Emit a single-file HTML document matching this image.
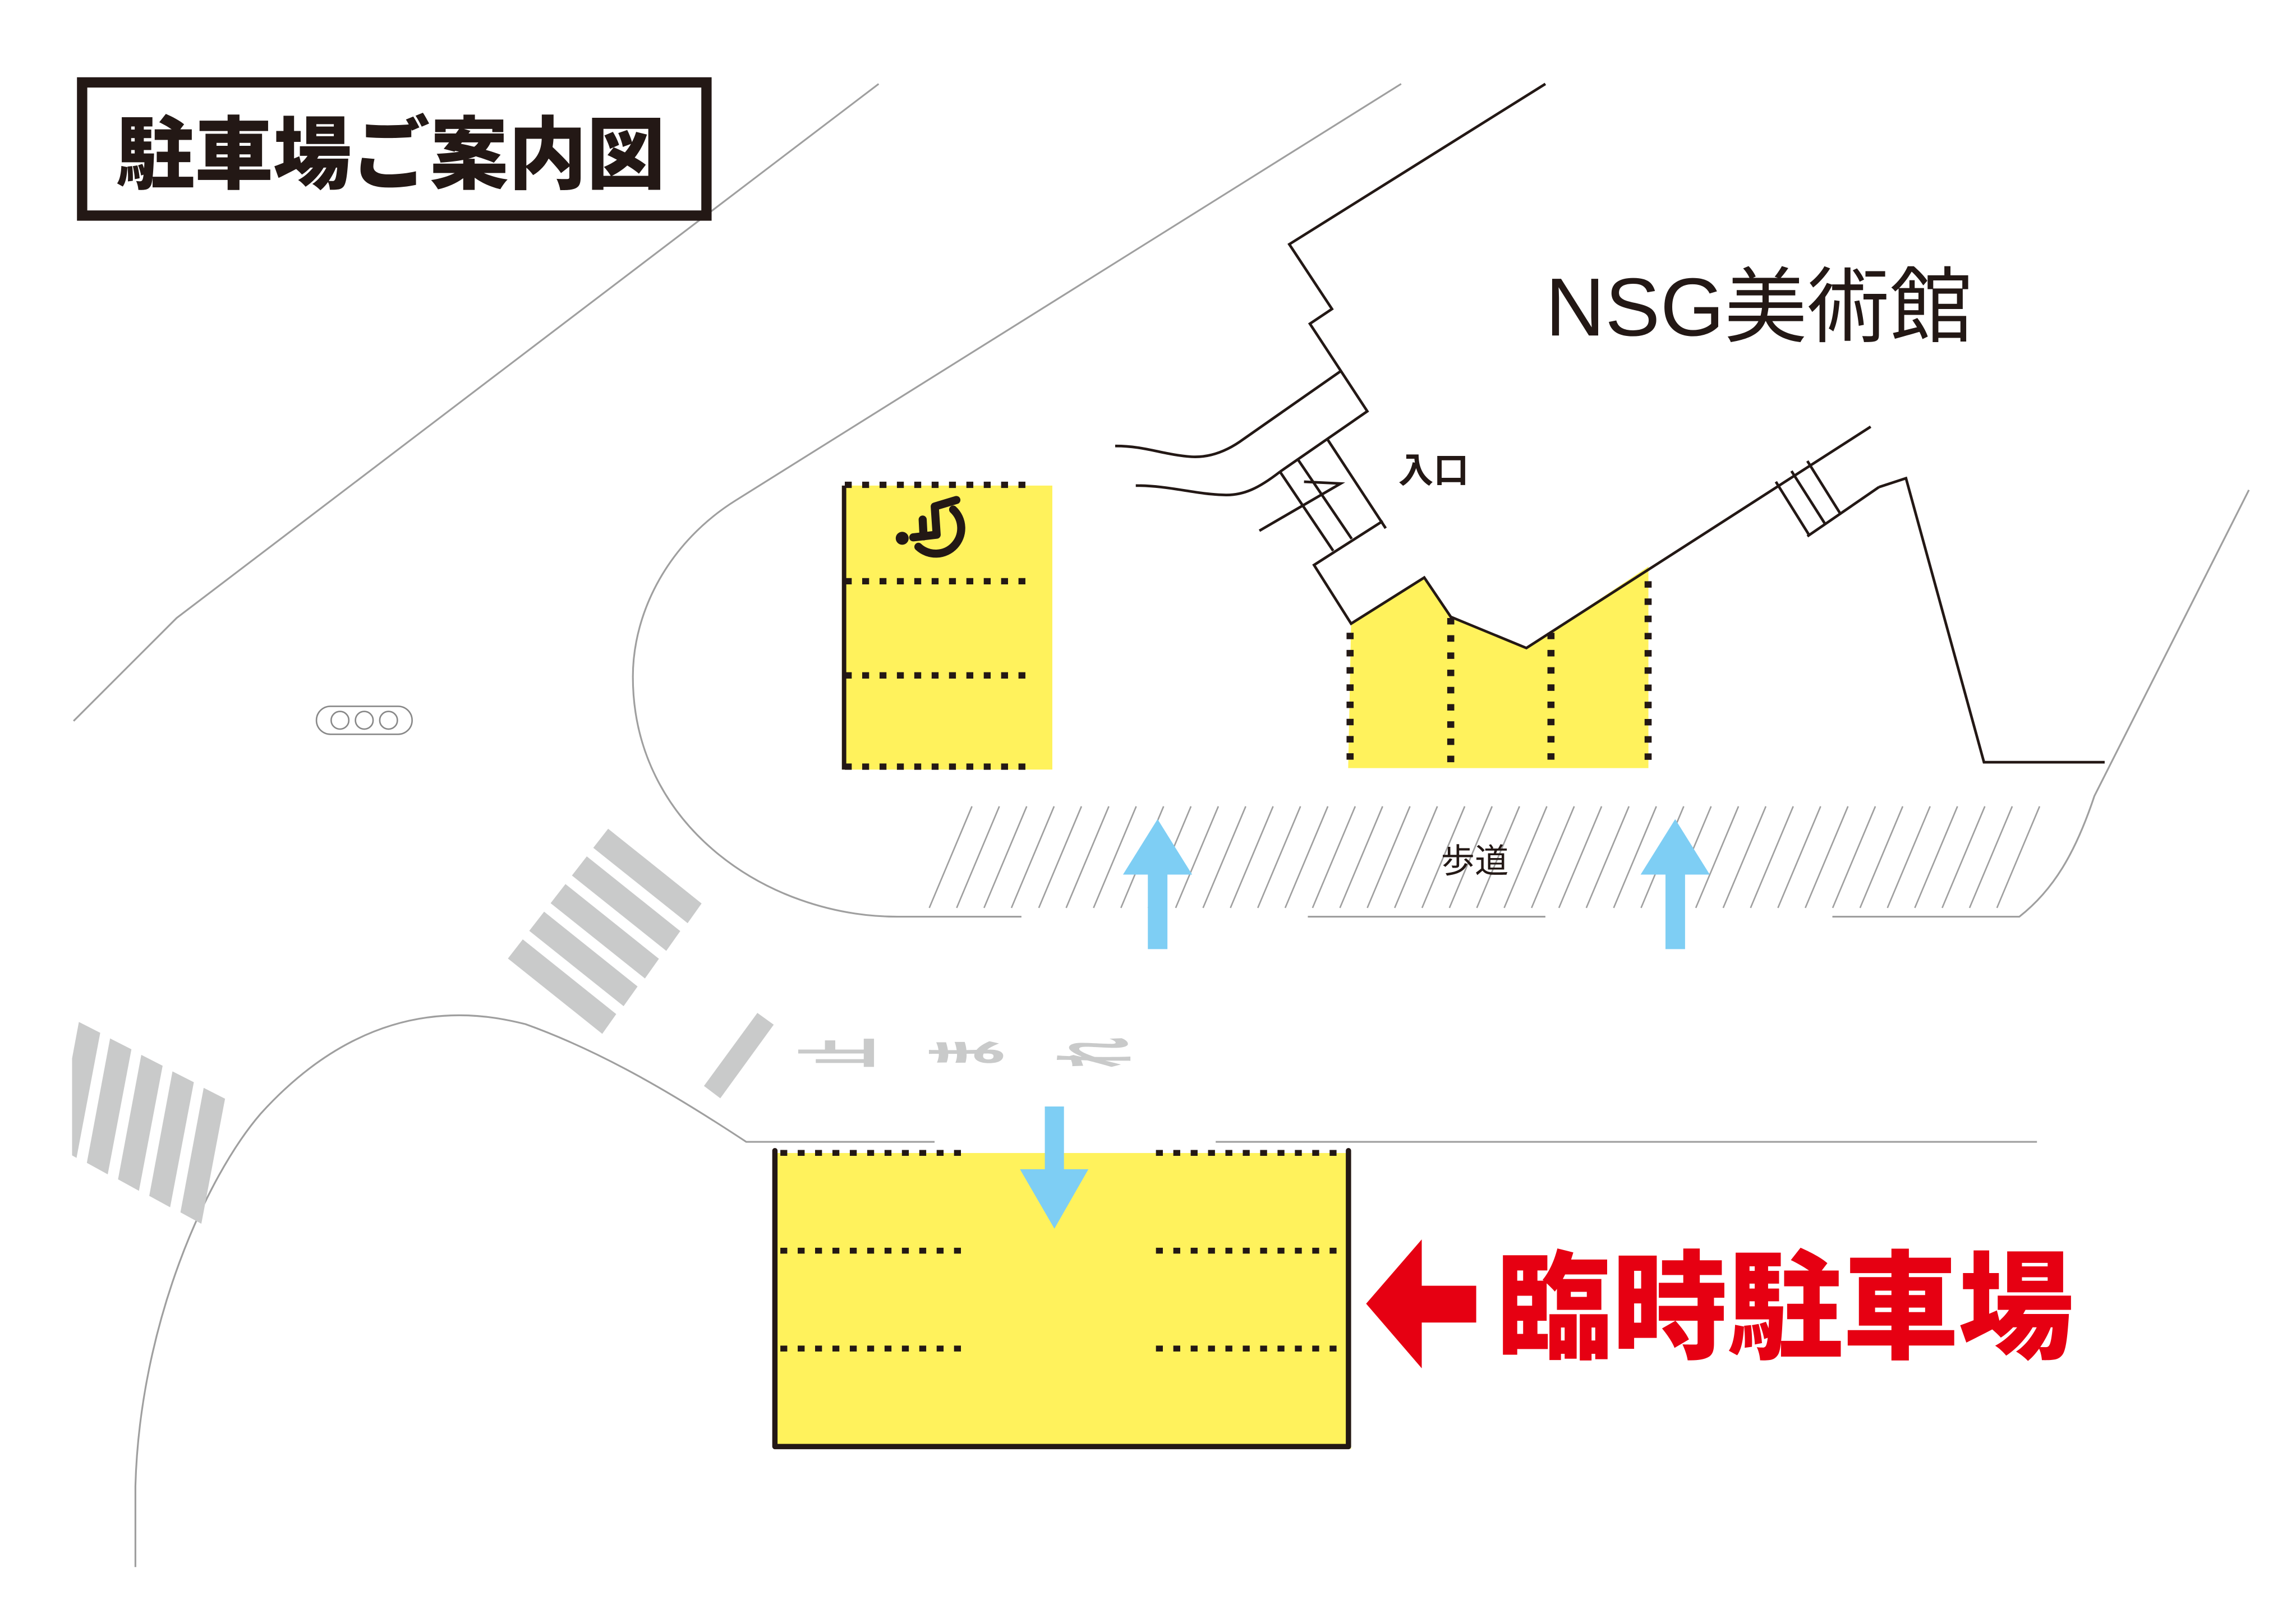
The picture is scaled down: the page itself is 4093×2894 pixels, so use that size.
<!DOCTYPE html>
<html><head><meta charset="utf-8"><style>
html,body{margin:0;padding:0;background:#fff;}
svg{display:block;}
</style></head><body>
<svg xmlns="http://www.w3.org/2000/svg" width="4093" height="2894" viewBox="0 0 1560 1103">
<defs><clipPath id="cl"><rect x="49" y="0" width="1600" height="1103"/></clipPath></defs>
<rect width="1560" height="1103" fill="#fff"/>
<!-- roads -->
<g fill="none" stroke="#9f9f9f" stroke-width="1.2">
<polyline points="597,57 120,420 50,490"/>
<path d="M952,57 L500,340 C455,368 430,415 430,460 C430,560 520,623 610,623 L694,623"/>
<line x1="888.6" y1="623" x2="1050" y2="623"/>
<path d="M1245,623 L1372,623 C1395,605 1410,580 1423,541 L1528,333"/>
<path d="M92,1065 L92,1010 C95,900 140,800 177,757 C215,715 260,690 312,690 C330,690 345,693 357,696 C410,715 460,745 507,776 L635,776"/>
<line x1="826" y1="776" x2="1384" y2="776"/>
</g>
<!-- hatch -->
<g stroke="#9f9f9f" stroke-width="1">
<path d="M660.4,548 L631.4,617 M679,548 L650,617 M697.6,548 L668.6,617 M716.2,548 L687.2,617 M734.8,548 L705.8,617 M753.4,548 L724.4,617 M772,548 L743,617 M790.6,548 L761.6,617 M809.2,548 L780.2,617 M827.8,548 L798.8,617 M846.4,548 L817.4,617 M865,548 L836,617 M883.6,548 L854.6,617 M902.2,548 L873.2,617 M920.8,548 L891.8,617 M939.4,548 L910.4,617 M958,548 L929,617 M976.6,548 L947.6,617 M995.2,548 L966.2,617 M1013.8,548 L984.8,617 M1032.4,548 L1003.4,617 M1051,548 L1022,617 M1069.6,548 L1040.6,617 M1088.2,548 L1059.2,617 M1106.8,548 L1077.8,617 M1125.4,548 L1096.4,617 M1144,548 L1115,617 M1162.6,548 L1133.6,617 M1181.2,548 L1152.2,617 M1199.8,548 L1170.8,617 M1218.4,548 L1189.4,617 M1237,548 L1208,617 M1255.6,548 L1226.6,617 M1274.2,548 L1245.2,617 M1292.8,548 L1263.8,617 M1311.4,548 L1282.4,617 M1330,548 L1301,617 M1348.6,548 L1319.6,617 M1367.2,548 L1338.2,617 M1385.8,548 L1356.8,617"/>
</g>
<text x="1002" y="593" font-family="Liberation Sans,'Noto Sans CJK JP',sans-serif" font-size="23" text-anchor="middle" fill="#231815">歩道</text>
<!-- crosswalks -->
<g fill="#c9caca">
<polygon points="413.2,563.2 476.7,614 467.2,627.4 403.1,576.2"/>
<polygon points="398.7,582 462.2,632.8 452.7,646.2 388.6,595"/>
<polygon points="384.2,600.8 447.7,651.6 438.2,665 374.1,613.8"/>
<polygon points="369.7,619.6 433.2,670.4 423.7,683.8 359.6,632.6"/>
<polygon points="355.2,638.4 418.7,689.2 409.2,702.6 345.1,651.4"/>
<g clip-path="url(#cl)">
<polygon points="53.6,694.5 68.1,701.9 52,786.9 37.8,779.1"/>
<polygon points="74.8,705.7 89.3,713.1 73.2,798.1 59,790.3"/>
<polygon points="96,716.9 110.5,724.3 94.4,809.3 80.2,801.5"/>
<polygon points="117.2,728.1 131.7,735.5 115.6,820.5 101.4,812.7"/>
<polygon points="138.4,739.3 152.9,746.7 136.8,831.7 122.6,823.9"/>
</g>
<polygon points="514.6,688.4 525.7,696.4 489.4,746.4 478.3,738"/>
</g>
<g font-family="Liberation Sans,'Noto Sans CJK JP',sans-serif" font-weight="bold" font-size="58" fill="#c9caca" text-anchor="middle" dominant-baseline="central">
<text transform="translate(571.8,715.5) rotate(-90) scale(0.36,1)">止</text>
<text transform="translate(658.3,715.5) rotate(-90) scale(0.36,1)">ま</text>
<text transform="translate(745.3,715.5) rotate(-90) scale(0.36,1)">れ</text>
</g>
<!-- traffic light -->
<rect x="215" y="480" width="65" height="19" rx="9.5" fill="#fff" stroke="#888" stroke-width="1"/>
<g fill="#fff" stroke="#888" stroke-width="1"><circle cx="231" cy="489.5" r="6"/><circle cx="247.5" cy="489.5" r="6"/><circle cx="264" cy="489.5" r="6"/></g>
<!-- yellow areas -->
<rect x="572" y="330" width="143" height="193" fill="#fff25c"/>
<polygon points="918,424 967.7,392.5 985.7,419.2 1037.1,440.4 1120,385 1120,522 916,522" fill="#fff25c"/>
<rect x="527" y="783.6" width="391" height="201" fill="#fff25c"/>
<!-- dotted lines -->
<g stroke="#231815" stroke-width="4.3" fill="none" stroke-dasharray="4.7 7.1">
<line x1="574" y1="329.5" x2="702" y2="329.5"/>
<line x1="574" y1="395" x2="702" y2="395"/>
<line x1="574" y1="459" x2="702" y2="459"/>
<line x1="574" y1="521" x2="702" y2="521"/>
</g>
<g stroke="#231815" stroke-width="4.8" fill="none" stroke-dasharray="4.4 7.3">
<line x1="917.3" y1="430" x2="917.3" y2="520"/>
<line x1="985.7" y1="420" x2="985.7" y2="520"/>
<line x1="1053.8" y1="430" x2="1053.8" y2="520"/>
<line x1="1119.8" y1="395" x2="1119.8" y2="520"/>
</g>
<g stroke="#231815" stroke-width="4" fill="none" stroke-dasharray="4.7 7.1">
<line x1="530.2" y1="783.5" x2="660" y2="783.5"/>
<line x1="785.4" y1="783.5" x2="915" y2="783.5"/>
<line x1="530.2" y1="850" x2="660" y2="850"/>
<line x1="785.4" y1="850" x2="915" y2="850"/>
<line x1="530.2" y1="916.5" x2="660" y2="916.5"/>
<line x1="785.4" y1="916.5" x2="915" y2="916.5"/>
</g>
<line x1="573.5" y1="330" x2="573.5" y2="523" stroke="#231815" stroke-width="3"/>
<polyline points="526.5,782 526.5,983.1 916.2,983.1 916.2,782" fill="none" stroke="#231815" stroke-width="3.6" stroke-linejoin="round" stroke-linecap="round"/>
<!-- wheelchair -->
<g stroke="#231815" stroke-width="5.5" fill="none" stroke-linecap="round" stroke-linejoin="round">
<path d="M647.6,346.3 A14.6,14.6 0 1 1 624,371.6"/>
<polyline points="626.9,353.1 627.5,364.5"/>
<polyline points="620.5,365.2 636.4,363.4 635.1,344.2 649.8,339.8"/>
</g>
<circle cx="613" cy="365.8" r="4.4" fill="#231815"/>
<!-- building -->
<g fill="none" stroke="#231815" stroke-width="1.8" stroke-linejoin="miter">
<polyline points="1050,57 876,166 905,210 890,220 929,279.5 869.7,320.6"/>
<path d="M869.7,320.6 C855,332 845,336.5 833,336.4 C812,336 795,330 771.7,330"/>
<path d="M910.5,252.5 L845.2,298.2 C832,308 820,311 809.5,310.4 C790,309 778,303 757.7,303.1"/>
<polyline points="939.5,354.1 892.8,384 918,423.8 967.7,392.5 985.7,419.2 1037.1,440.4 1271,290"/>
<line x1="901.7" y1="298.2" x2="941.5" y2="359"/>
<line x1="881.9" y1="312.3" x2="918.4" y2="366.2"/>
<line x1="869.7" y1="320.6" x2="905.8" y2="374.3"/>
<polyline points="886,327.4 910.9,328.6 855.7,360.7"/>
<polyline points="1276.7,331 1228,364.5"/>
<line x1="1206.6" y1="327.4" x2="1229" y2="363.3"/>
<line x1="1217.2" y1="320.1" x2="1240" y2="356"/>
<line x1="1228" y1="313.3" x2="1250.2" y2="348.8"/>
<polyline points="1276.7,331 1295,325 1348,518 1430,518"/>
</g>
<text x="950" y="328" font-family="Liberation Sans,'Noto Sans CJK JP',sans-serif" font-weight="bold" font-size="24" fill="#231815">入口</text>
<text x="1050" y="228" font-family="Liberation Sans,'Noto Sans CJK JP',sans-serif" font-size="56" fill="#231815" textLength="290">NSG美術館</text>
<!-- blue arrows -->
<g fill="#7ecef4">
<polygon points="786.5,556.7 810,594.4 793.2,594.4 793.2,645 779.9,645 779.9,594.4 763,594.4"/>
<polygon points="1138.2,556.7 1161.7,594.4 1144.9,594.4 1144.9,645 1131.6,645 1131.6,594.4 1114.7,594.4"/>
<polygon points="709.9,752 722.9,752 722.9,794.6 739.5,794.6 716.4,835 693,794.6 709.9,794.6"/>
</g>
<!-- red arrow + label -->
<polygon points="928.2,886 966,842.3 966,873.8 1003,873.8 1003,898.8 966,898.8 966,929.9" fill="#e60012"/>
<text x="1017" y="917" font-family="Liberation Sans,'Noto Sans CJK JP',sans-serif" font-weight="900" font-size="80" fill="#e60012" textLength="392" lengthAdjust="spacingAndGlyphs">臨時駐車場</text>
<!-- title -->
<rect x="55.8" y="56" width="424.2" height="90.5" fill="#fff" stroke="#231815" stroke-width="7"/>
<text x="79" y="124" font-family="Liberation Sans,'Noto Sans CJK JP',sans-serif" font-weight="900" font-size="54" fill="#231815" textLength="373" lengthAdjust="spacingAndGlyphs">駐車場ご案内図</text>
</svg>
</body></html>
